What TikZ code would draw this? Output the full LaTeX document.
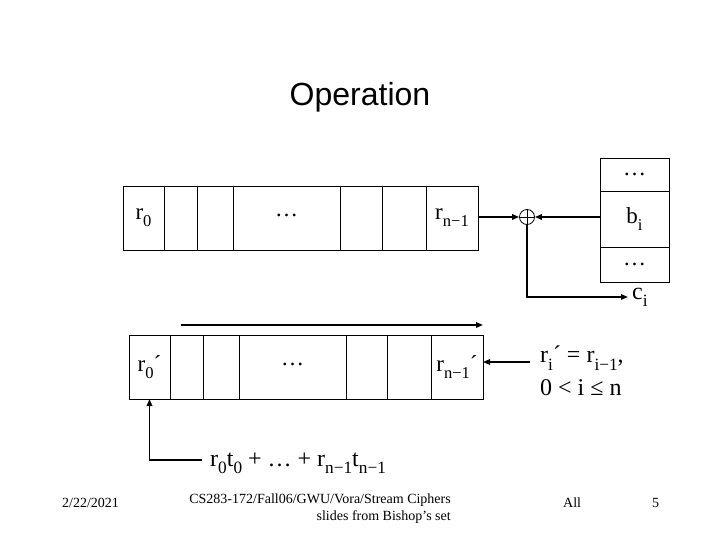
\documentclass[tikz,border=0pt]{standalone}
\usepackage{graphicx}
\usepackage{fontspec}
\setmainfont{Liberation Serif}
\newfontfamily\titlefont{Liberation Sans}
\usetikzlibrary{positioning, arrows.meta}
\newcommand{\lowidx}[1]{\raisebox{-0.3em}{\scalebox{0.72}{#1}}}

\begin{document}
\begin{tikzpicture}[x=1pt, y=-1pt,
    cell/.style={draw, line width=0.8pt, minimum height=64pt, inner sep=0pt,
                 outer sep=0pt, font=\fontsize{23}{26}\selectfont},
    bcell/.style={draw, line width=0.8pt, minimum width=69pt, inner sep=0pt,
                  outer sep=0pt, font=\fontsize{23}{26}\selectfont},
    lbl/.style={font=\fontsize{24}{30}\selectfont, inner sep=0pt},
    foot/.style={font=\fontsize{14}{17}\selectfont, inner sep=0pt},
    arr/.style={-{Triangle[length=7pt,width=5.5pt]}, line width=1.6pt},
    node distance=0pt
]
\useasboundingbox (0,0) rectangle (720,540);

\node[font=\titlefont\fontsize{32}{36}\selectfont, anchor=base] (title) at (360,106) {Operation};

% register r
\node[cell, minimum width=41pt, anchor=west] (r0) at (123,218) {r\lowidx{0}};
\node[cell, minimum width=33pt, right=of r0] (r1) {};
\node[cell, minimum width=36pt, right=of r1] (r2) {};
\node[cell, minimum width=107pt, right=of r2] (rdots) {\raisebox{6pt}{…}};
\node[cell, minimum width=42pt, right=of rdots] (r3) {};
\node[cell, minimum width=44pt, right=of r3] (r4) {};
\node[cell, minimum width=52pt, right=of r4] (rn) {r\lowidx{n−1}};

% register r'
\node[cell, minimum width=41pt, anchor=west] (p0) at (129,367) {r\lowidx{0}´};
\node[cell, minimum width=33pt, right=of p0] (p1) {};
\node[cell, minimum width=36pt, right=of p1] (p2) {};
\node[cell, minimum width=107pt, right=of p2] (pdots) {\raisebox{6pt}{…}};
\node[cell, minimum width=41pt, right=of pdots] (p3) {};
\node[cell, minimum width=44pt, right=of p3] (p4) {};
\node[cell, minimum width=52pt, right=of p4] (pn) {r\lowidx{n−1}´};

% key stream
\node[bcell, minimum height=33pt, anchor=north west] (btop) at (600,158) {…};
\node[bcell, minimum height=56pt, below=of btop] (bi) {b\lowidx{i}};
\node[bcell, minimum height=35pt, below=of bi] (bbot) {…};

% xor
\node[circle, draw, line width=0.8pt, minimum size=15pt, inner sep=0pt] (xor) at (527,217) {};
\draw[line width=0.8pt] (xor.north) -- (xor.south) (xor.west) -- (xor.east);

\draw[arr] (rn.east |- xor) -- (xor.west);
\draw[arr] (bi.west |- xor) -- (xor.east);
\coordinate (cend) at (628,297);
\draw[arr] (xor.south) |- (cend);
\node[lbl, anchor=west] (ci) at (cend) {\hspace{4pt}c\lowidx{i}};

% shift
\coordinate (sfrom) at (181,325);
\draw[arr] (sfrom) -- (sfrom -| pn.east);
\coordinate (sin) at (530,362);
\draw[arr] (sin) -- (sin -| pn.east);
\node[lbl, align=left, anchor=north west] (rule) at (540,346)
    {r\lowidx{i}´ = r\lowidx{i−1},\\[3pt] 0 < i ≤ n};

% feedback
\coordinate (fb) at (202,460);
\draw[arr] (fb) -| (p0.south);
\node[lbl, anchor=base west] (sum) at (210,466)
    {r\lowidx{0}t\lowidx{0} + … + r\lowidx{n−1}t\lowidx{n−1}};

% footer
\node[foot, anchor=base west] (date) at (62,507) {2/22/2021};
\node[foot, align=right, anchor=north east] (src) at (451,494)
    {CS283-172/Fall06/GWU/Vora/Stream Ciphers\\slides from Bishop's set};
\node[foot, anchor=base west] (all) at (563,507) {All};
\node[foot, anchor=base west] (page) at (652,507) {5};
\end{tikzpicture}
\end{document}
